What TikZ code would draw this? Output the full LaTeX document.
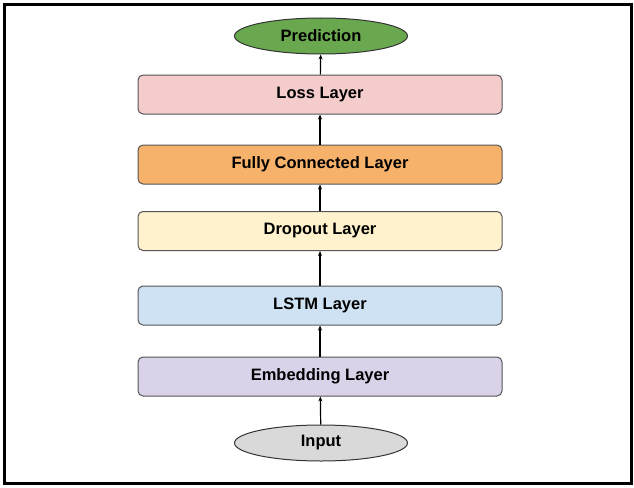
\documentclass[tikz,border=0pt]{standalone}
\usepackage{fontspec}
\setmainfont{Liberation Sans}
\usepackage{xcolor}
\usetikzlibrary{arrows.meta,shapes.geometric}
\definecolor{predgreen}{HTML}{6AA84F}
\definecolor{losspink}{HTML}{F4CCCC}
\definecolor{fcorange}{HTML}{F6B26B}
\definecolor{dropyellow}{HTML}{FFF2CC}
\definecolor{lstmblue}{HTML}{CFE2F3}
\definecolor{embpurple}{HTML}{D9D2E9}
\definecolor{inputgray}{HTML}{D9D9D9}
\definecolor{edge}{HTML}{555555}
\tikzset{
  layerbox/.style={draw=edge,line width=1pt,rounded corners=5pt,
    minimum width=364pt,minimum height=39pt,inner sep=0pt,
    font=\fontsize{16.5}{19}\selectfont\bfseries},
  endpoint/.style={ellipse,draw=black!80,line width=1pt,
    minimum width=173pt,minimum height=36pt,inner sep=0pt,
    font=\fontsize{16.5}{19}\selectfont\bfseries},
  flow/.style={line width=1.2pt,-{Stealth[length=5pt,width=4pt]}}
}
\begin{document}
\begin{tikzpicture}[x=1pt,y=-1pt]
\useasboundingbox (0,0) rectangle (634,487);
% frame
\draw[line width=3pt] (4.5,4.5) rectangle (631,483);
% stack of layers
\node[endpoint,fill=predgreen] (pred) at (321,36) {Prediction};
\node[layerbox,fill=losspink] (loss) at (320,94.5) {Loss Layer};
\node[layerbox,fill=fcorange] (fc) at (320,164.5) {Fully Connected Layer};
\node[layerbox,fill=dropyellow] (drop) at (320,231) {Dropout Layer};
\node[layerbox,fill=lstmblue] (lstm) at (320,305.5) {LSTM Layer};
\node[layerbox,fill=embpurple] (emb) at (320,376.5) {Embedding Layer};
\node[endpoint,fill=inputgray] (input) at (321,443) {Input};
% arrows
\foreach \a/\b in {input/emb,emb/lstm,lstm/drop,drop/fc,fc/loss,loss/pred}
  \draw[flow] (\a) -- (\b);
\end{tikzpicture}
\end{document}
